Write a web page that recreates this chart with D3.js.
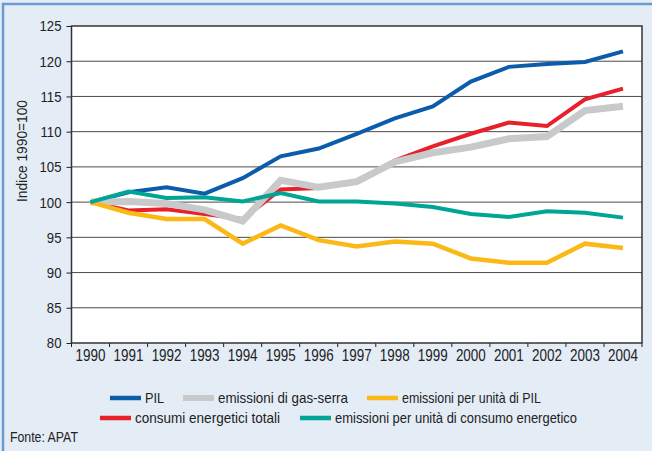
<!DOCTYPE html>
<html>
<head>
<meta charset="utf-8">
<script src="https://cdn.jsdelivr.net/npm/d3@7"></script>
<style>
  body { margin: 0; background: #fff; }
  svg { display: block; font-family: "Liberation Sans", Arial, sans-serif; }
</style>
</head>
<body>
<div id="chart"></div>
<script>
// data
var years = d3.range(1990, 2005);
var pil = [100, 101.4, 102.1, 101.2, 103.4, 106.5, 107.6, 109.7, 111.9, 113.6, 117.1, 119.2, 119.6, 119.9, 121.4];
var emissioni = [100, 100.1, 99.8, 98.9, 97.3, 103.1, 102.1, 102.9, 105.7, 107.0, 107.8, 109.0, 109.3, 113.0, 113.6];
var consumi = [100, 98.8, 99.0, 98.3, 97.6, 101.8, 102.0, 103.0, 105.9, 107.9, 109.7, 111.3, 110.8, 114.6, 116.1];
var emiss_pil = [100, 98.5, 97.6, 97.6, 94.1, 96.7, 94.6, 93.7, 94.4, 94.1, 92.0, 91.4, 91.4, 94.1, 93.5];
var emiss_cons = [100, 101.5, 100.6, 100.7, 100.1, 101.3, 100.1, 100.1, 99.8, 99.3, 98.3, 97.9, 98.7, 98.5, 97.8];
var y_ticks = [80, 85, 90, 95, 100, 105, 110, 115, 120, 125];

// drawing order: red under grey, teal on top
var series = [
	{name: 'PIL', values: pil, color: '#0b5cab', width: 4},
	{name: 'consumi energetici totali', values: consumi, color: '#e8202a', width: 4},
	{name: 'emissioni di gas-serra', values: emissioni, color: '#c8c9ca', width: 7},
	{name: 'emissioni per unità di PIL', values: emiss_pil, color: '#fbb917', width: 4.5},
	{name: 'emissioni per unità di consumo energetico', values: emiss_cons, color: '#00a595', width: 4}
];

var W = 652, H = 451;
var margin = {top: 26, right: 10, bottom: 108, left: 71.5};
var plot_w = 642 - margin.left, plot_h = 343 - margin.top;

// the source uses a condensed face, squeeze the glyphs
function condense(sel, k) {
	sel.each(function() {
		var w = this.getComputedTextLength();
		d3.select(this).attr('textLength', w * k).attr('lengthAdjust', 'spacingAndGlyphs');
	});
}

var svg = d3.select('#chart').append('svg')
	.attr('width', W)
	.attr('height', H);

// panel
svg.append('rect')
	.attr('x', 0).attr('y', 0).attr('width', W).attr('height', H)
	.attr('fill', '#e4ecf6');
svg.append('path')
	.attr('d', 'M3,' + H + 'V4H' + W)
	.attr('fill', 'none')
	.attr('stroke', '#6a9cd2')
	.attr('stroke-width', 2.5);

var g = svg.append('g')
	.attr('transform', 'translate(' + margin.left + ',' + margin.top + ')');

var x_band = d3.scaleBand().domain(years).range([0, plot_w]);
var x_scale = function(d) { return x_band(d) + x_band.bandwidth() / 2; };
var y_scale = d3.scaleLinear().domain([80, 125]).range([plot_h, 0]);

g.append('rect')
	.attr('width', plot_w).attr('height', plot_h)
	.attr('fill', '#fff');

// grid
g.selectAll('.grid')
	.data(y_ticks.slice(1, -1))
	.enter().append('line')
	.attr('class', 'grid')
	.attr('x1', 0).attr('x2', plot_w)
	.attr('y1', function(d) { return y_scale(d); })
	.attr('y2', function(d) { return y_scale(d); })
	.attr('stroke', '#4a4a4a')
	.attr('stroke-width', 1);

// y axis
var y_axis = g.append('g')
	.call(d3.axisLeft(y_scale).tickValues(y_ticks).tickSize(5).tickPadding(5));
y_axis.select('.domain').remove();
y_axis.selectAll('line').attr('stroke', '#222');
y_axis.selectAll('text')
	.attr('font-size', 15.5)
	.attr('fill', '#222')
	.attr('font-family', null)
	.call(condense, 0.85);

// x axis, ticks between the years
var x_axis = g.append('g')
	.attr('transform', 'translate(0,' + plot_h + ')');
x_axis.selectAll('.xt')
	.data(years.concat([2005]))
	.enter().append('line')
	.attr('class', 'xt')
	.attr('x1', function(d, i) { return i * x_band.step(); })
	.attr('x2', function(d, i) { return i * x_band.step(); })
	.attr('y1', 0).attr('y2', 4)
	.attr('stroke', '#222');
x_axis.selectAll('.xl')
	.data(years)
	.enter().append('text')
	.attr('class', 'xl')
	.attr('x', x_scale)
	.attr('y', 18)
	.attr('text-anchor', 'middle')
	.attr('font-size', 16)
	.attr('fill', '#222')
	.text(function(d) { return d; })
	.call(condense, 0.84);

// plot frame
g.append('rect')
	.attr('width', plot_w).attr('height', plot_h)
	.attr('fill', 'none')
	.attr('stroke', '#333')
	.attr('stroke-width', 1.5);

// lines
var line = d3.line()
	.x(function(d, i) { return x_scale(years[i]); })
	.y(function(d) { return y_scale(d); });

g.selectAll('.series')
	.data(series)
	.enter().append('path')
	.attr('class', 'series')
	.attr('d', function(d) { return line(d.values); })
	.attr('fill', 'none')
	.attr('stroke', function(d) { return d.color; })
	.attr('stroke-width', function(d) { return d.width; })
	.attr('stroke-linejoin', 'miter');

// axis title
svg.append('text')
	.attr('transform', 'translate(27,151) rotate(-90)')
	.attr('text-anchor', 'middle')
	.attr('font-size', 14.5)
	.attr('fill', '#222')
	.attr('textLength', 102)
	.attr('lengthAdjust', 'spacingAndGlyphs')
	.text('Indice 1990=100');

// legend
var legend_pos = [
	{s: 'PIL', x: 110, y: 398, w: 0},
	{s: 'emissioni di gas-serra', x: 183, y: 398, w: 130},
	{s: 'emissioni per unità di PIL', x: 367, y: 398, w: 139},
	{s: 'consumi energetici totali', x: 100, y: 418, w: 145},
	{s: 'emissioni per unità di consumo energetico', x: 300, y: 418, w: 242}
];
var leg = svg.selectAll('.leg')
	.data(legend_pos)
	.enter().append('g')
	.attr('class', 'leg')
	.attr('transform', function(d) { return 'translate(' + d.x + ',' + d.y + ')'; });
leg.append('line')
	.attr('x1', 0).attr('x2', 31)
	.attr('stroke', function(d) { return series.find(function(s) { return s.name === d.s; }).color; })
	.attr('stroke-width', function(d) { return d.s === 'emissioni di gas-serra' ? 6 : 4.5; });
leg.append('text')
	.attr('x', 35)
	.attr('dy', '0.36em')
	.attr('font-size', 15)
	.attr('fill', '#222')
	.text(function(d) { return d.s; })
	.each(function(d) {
		if (d.w) d3.select(this).attr('textLength', d.w).attr('lengthAdjust', 'spacingAndGlyphs');
		else d3.select(this).call(condense, 0.85);
	});

svg.append('text')
	.attr('x', 10).attr('y', 442)
	.attr('font-size', 15)
	.attr('fill', '#222')
	.text('Fonte: APAT')
	.call(condense, 0.82);
</script>
</body>
</html>
